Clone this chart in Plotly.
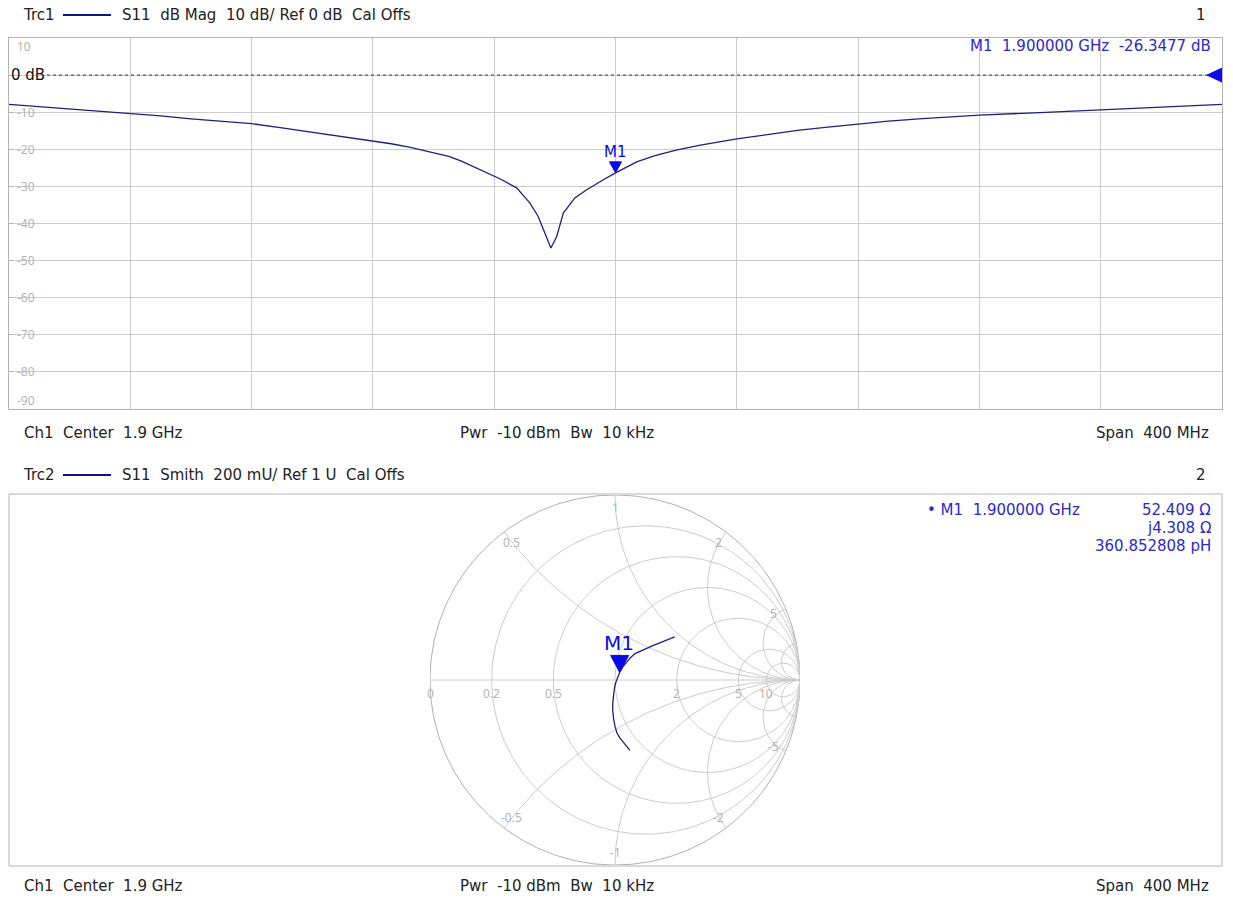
import numpy as np
import plotly.graph_objects as go

W, H = 1233, 898

# ---------------- data ----------------
# Trace 1: S11 dB magnitude versus frequency (GHz)
freq_ghz = [1.700, 1.710, 1.720, 1.730, 1.740, 1.750, 1.760, 1.770, 1.780, 1.790,
            1.800, 1.810, 1.820, 1.826, 1.832, 1.838, 1.845, 1.849, 1.853, 1.858,
            1.862, 1.8674, 1.8718, 1.8745, 1.8768, 1.8787, 1.8806, 1.8828, 1.8866,
            1.8905, 1.896, 1.900, 1.907, 1.913, 1.920, 1.928, 1.940, 1.950, 1.960,
            1.970, 1.980, 1.990, 2.000, 2.020, 2.040, 2.060, 2.080, 2.100]
s11_db = [-7.9, -8.5, -9.1, -9.6, -10.2, -11.0, -11.8, -12.4, -13.1, -14.2,
          -15.4, -16.5, -17.8, -18.5, -19.4, -20.5, -21.9, -23.1, -24.6, -26.4,
          -28.0, -30.4, -34.5, -38.1, -42.6, -46.6, -43.5, -37.2, -33.1,
          -30.9, -28.2, -26.35, -23.4, -21.7, -20.2, -18.9, -17.2, -16.0, -14.9,
          -14.0, -13.1, -12.4, -11.8, -10.8, -10.1, -9.4, -8.5, -7.9]

# Trace 2: S11 reflection coefficient (real, imag), 1.7 GHz -> 2.1 GHz
smith_re = [0.081, 0.055, 0.027, 0.010, 0.000, -0.008, -0.0125, -0.012, -0.009,
            -0.004, 0.002, 0.009, 0.016, 0.025, 0.040, 0.063, 0.085, 0.108,
            0.140, 0.170, 0.205, 0.242, 0.285, 0.323]
smith_im = [-0.380, -0.350, -0.314, -0.285, -0.251, -0.205, -0.161, -0.125, -0.090,
            -0.050, -0.020, 0.000, 0.022, 0.041, 0.068, 0.099, 0.122, 0.143,
            0.158, 0.170, 0.186, 0.201, 0.220, 0.233]

# Marker M1
m1_freq = 1.9
m1_db = -26.3477
m1_r_ohm = 52.409
m1_x_ohm = 4.308
m1_l_ph = 360.852808
z0 = 50.0

# Axis ticks
y_ticks = [10, -10, -20, -30, -40, -50, -60, -70, -80, -90]
f_start, f_stop, f_step = 1.7, 2.1, 0.04
db_top, db_bottom = 10, -90

smith_r_vals = [0.2, 0.5, 1, 2, 5, 10]
smith_x_vals = [0.5, 1, 2, 5, 10]
smith_r_labels = [0, 0.2, 0.5, 2, 5, 10]
smith_x_labels = [0.5, 1, 2, 5, -0.5, -1, -2, -5]

# ---------------- styles ----------------
FONT = "DejaVu Sans"
LFONT = "Noto Sans"
GRID = "#cccccc"
BOX = "#b4b4b4"
LBL = "#b4b4b4"
TRACE = "#1f1f80"
MBLUE = "#0a0ae6"
TBLUE = "#2a2ac8"
TXT = "#222222"


def px(x):
    return x / W


def py(y):
    return 1 - y / H


def nb(s):
    return s.replace(" ", "\u00a0")


fig = go.Figure()

# ---------------- top panel ----------------
fig.add_trace(go.Scatter(x=freq_ghz, y=s11_db, mode="lines",
                         line=dict(color=TRACE, width=1.3),
                         xaxis="x", yaxis="y", showlegend=False, hoverinfo="skip"))

# ---------------- Smith chart ----------------
t = np.linspace(0, 2 * np.pi, 361)
gx, gy = [], []
fig.add_trace(go.Scatter(x=np.cos(t), y=np.sin(t), mode="lines",
                         line=dict(color="#b0b0b0", width=1),
                         xaxis="x2", yaxis="y2", showlegend=False, hoverinfo="skip"))
for r in smith_r_vals:
    c, rad = r / (1 + r), 1 / (1 + r)
    gx += list(c + rad * np.cos(t)) + [None]
    gy += list(rad * np.sin(t)) + [None]
rr = np.concatenate([[0], np.geomspace(1e-3, 1e5, 400)])
for xv in smith_x_vals:
    for s in (1, -1):
        z = rr + 1j * s * xv
        g = (z - 1) / (z + 1)
        gx += list(g.real) + [None]
        gy += list(g.imag) + [None]
gx += [-1, 1, None]
gy += [0, 0, None]
fig.add_trace(go.Scatter(x=gx, y=gy, mode="lines",
                         line=dict(color=GRID, width=1),
                         xaxis="x2", yaxis="y2", showlegend=False, hoverinfo="skip"))

fig.add_trace(go.Scatter(x=smith_re, y=smith_im, mode="lines",
                         line=dict(color=TRACE, width=1.3),
                         xaxis="x2", yaxis="y2", showlegend=False, hoverinfo="skip"))

annotations = []
shapes = []

# Smith labels
for r in smith_r_labels:
    gr = (r - 1) / (r + 1)
    annotations.append(dict(x=gr, y=0, xref="x2", yref="y2", text=str(r),
                            showarrow=False, yshift=-13,
                            font=dict(family=LFONT, size=12, color=LBL)))
for xv in smith_x_labels:
    z = 1j * xv
    g = (z - 1) / (z + 1)
    ang = np.angle(g)
    annotations.append(dict(x=0.93 * np.cos(ang), y=0.93 * np.sin(ang),
                            xref="x2", yref="y2", text=f"{xv:g}", showarrow=False,
                            font=dict(family=LFONT, size=12, color=LBL)))

# M1 on Smith
zm = complex(m1_r_ohm, m1_x_ohm)
gm = (zm - z0) / (zm + z0)
shapes.append(dict(type="path", xref="x2", yref="y2", xsizemode="pixel",
                   ysizemode="pixel", xanchor=gm.real, yanchor=gm.imag,
                   path="M -9 17 L 9 17 L 0 0 Z", fillcolor=MBLUE,
                   line=dict(color=MBLUE, width=1)))
annotations.append(dict(x=gm.real, y=gm.imag, xref="x2", yref="y2", text="M1",
                        showarrow=False, yshift=29, xshift=-1,
                        font=dict(family=FONT, size=20, color=MBLUE)))

# M1 on top trace
shapes.append(dict(type="path", xref="x", yref="y", xsizemode="pixel",
                   ysizemode="pixel", xanchor=m1_freq, yanchor=m1_db,
                   path="M -6 11 L 6 11 L 0 0 Z", fillcolor=MBLUE,
                   line=dict(color=MBLUE, width=1)))
annotations.append(dict(x=m1_freq, y=m1_db, xref="x", yref="y", text="M1",
                        showarrow=False, yshift=21,
                        font=dict(family=FONT, size=15, color=MBLUE)))

# Reference level: dotted 0 dB line and triangle
shapes.append(dict(type="line", xref="paper", yref="y", x0=px(47), x1=px(1208),
                   y0=0, y1=0, line=dict(color="#333333", width=1, dash="dot")))
shapes.append(dict(type="path", xref="x", yref="y", xsizemode="pixel",
                   ysizemode="pixel", xanchor=f_stop, yanchor=0,
                   path="M 0 -7 L 0 7 L -15 0 Z", fillcolor=MBLUE,
                   line=dict(color=MBLUE, width=1)))
annotations.append(dict(x=px(9), y=0, xref="paper", yref="y", text=nb("0 dB"),
                        xanchor="left", showarrow=False,
                        font=dict(family=FONT, size=15, color="#111111")))

# y tick labels top panel
for v in y_ticks:
    shift = 0
    if v == db_top:
        shift = -8
    elif v == db_bottom:
        shift = 9
    annotations.append(dict(x=px(15), y=v, xref="paper", yref="y", text=str(v),
                            xanchor="left", showarrow=False, yshift=shift,
                            font=dict(family=LFONT, size=12, color=LBL)))

# bottom panel box
shapes.append(dict(type="rect", xref="paper", yref="paper", x0=px(9), x1=px(1222),
                   y0=py(866), y1=py(494), line=dict(color=BOX, width=1),
                   layer="below"))


def txt(x, y, s, anchor="left", color=TXT, size=15):
    annotations.append(dict(x=px(x), y=py(y), xref="paper", yref="paper",
                            text=nb(s), xanchor=anchor, yanchor="middle",
                            showarrow=False,
                            font=dict(family=FONT, size=size, color=color)))


for hy, trc, desc, num in [(15, "Trc1", "S11  dB Mag  10 dB/ Ref 0 dB  Cal Offs", "1"),
                           (475, "Trc2", "S11  Smith  200 mU/ Ref 1 U  Cal Offs", "2")]:
    txt(21, hy, trc, size=15)
    shapes.append(dict(type="line", xref="paper", yref="paper", x0=px(63), x1=px(111),
                       y0=py(hy), y1=py(hy), line=dict(color="#10108c", width=2)))
    txt(120, hy, desc)
    txt(1201, hy, num, anchor="center")

for fy in (433, 886):
    txt(22, fy, "Ch1  Center  1.9 GHz")
    txt(458, fy, "Pwr  -10 dBm  Bw  10 kHz")
    txt(1211, fy, "Span  400 MHz", anchor="right", size=15)

# marker info
txt(1213, 46, f"M1  {m1_freq:.6f} GHz  {m1_db:.4f} dB", anchor="right", color=TBLUE, size=15)
txt(925, 510, f"\u2022 M1  {m1_freq:.6f} GHz", color=TBLUE, size=15)
txt(1213, 510, f"{m1_r_ohm:.3f} \u03a9", anchor="right", color=TBLUE, size=15)
txt(1213, 528, f"j{m1_x_ohm:.3f} \u03a9", anchor="right", color=TBLUE, size=15)
txt(1213, 546, f"{m1_l_ph:.6f} pH", anchor="right", color=TBLUE, size=15)

fig.update_layout(
    width=W, height=H,
    margin=dict(l=0, r=0, t=0, b=0),
    paper_bgcolor="white", plot_bgcolor="white",
    showlegend=False,
    annotations=annotations, shapes=shapes,
    xaxis=dict(domain=[px(9), px(1222)], range=[f_start, f_stop], dtick=f_step,
               tick0=f_start, showgrid=True, gridcolor=GRID, gridwidth=1,
               showline=True, linecolor=BOX, mirror=True, showticklabels=False,
               ticks="", zeroline=False, anchor="y"),
    yaxis=dict(domain=[py(409), py(38)], range=[db_bottom, db_top], dtick=10,
               showgrid=True, gridcolor=GRID, gridwidth=1, showline=True,
               linecolor=BOX, mirror=True, showticklabels=False, ticks="inside",
               ticklen=4, tickcolor=LBL, zeroline=False, anchor="x"),
    xaxis2=dict(domain=[px(430), px(800)], range=[-1, 1], visible=False,
                anchor="y2", fixedrange=True),
    yaxis2=dict(domain=[py(865), py(495)], range=[-1, 1], visible=False,
                anchor="x2", fixedrange=True),
)

fig.write_html(
    "out.html",
    config={"displayModeBar": False},
    post_script="document.body.style.margin='0';document.body.style.padding='0';"
                "document.body.style.overflow='hidden';",
)
